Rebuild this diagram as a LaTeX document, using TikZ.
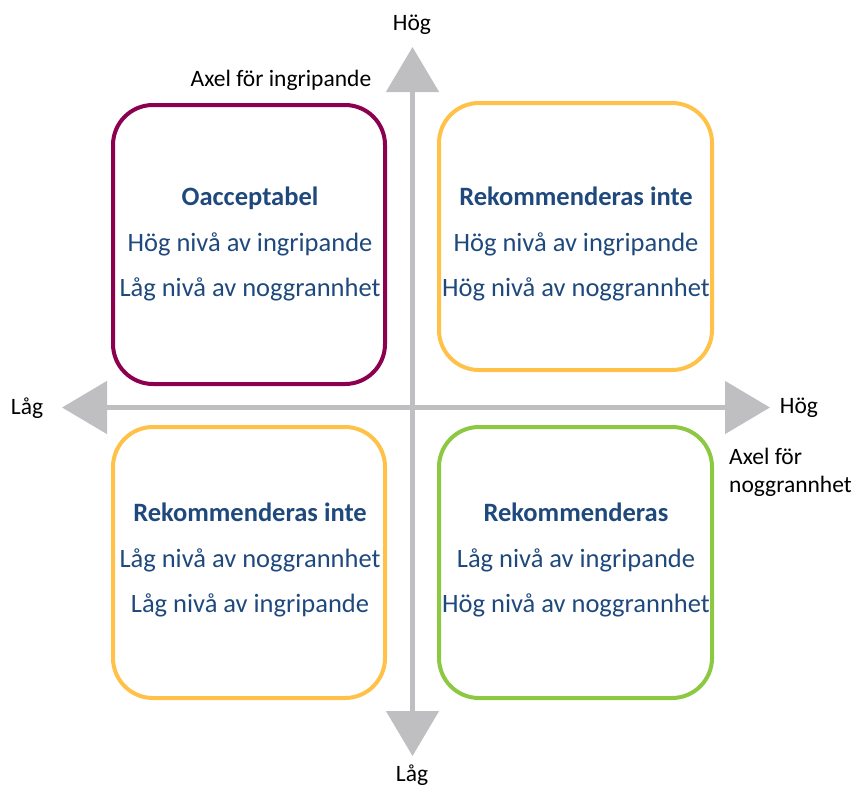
\documentclass[tikz,border=0pt]{standalone}
\usepackage{fontspec}
\setmainfont{Carlito}
\usetikzlibrary{arrows.meta, positioning}
\definecolor{axisgray}{RGB}{191,191,193}
\definecolor{plum}{RGB}{140,0,80}
\definecolor{amber}{RGB}{255,193,72}
\definecolor{leafgreen}{RGB}{140,200,65}
\definecolor{navytext}{RGB}{31,73,125}

\begin{document}
\begin{tikzpicture}[
    x=1pt, y=-1pt,
    quad/.style={rectangle, draw=#1, line width=4pt, rounded corners=40pt,
                 minimum width=272pt, minimum height=271pt, inner sep=0pt},
    quadtext/.style={align=center, text=navytext, inner sep=0pt,
                     font=\fontsize{26.5}{45.5}\selectfont},
    axislabel/.style={inner sep=0pt, font=\fontsize{23.5}{28}\selectfont},
    axis/.style={line width=5pt, axisgray,
                 {Triangle[length=45pt,width=52pt]}-{Triangle[length=45pt,width=52pt]}},
]
    \useasboundingbox (0,0) rectangle (856,787);

    % Axes
    \coordinate (west) at (62,407.5);
    \coordinate (east) at (770,407.5);
    \coordinate (north) at (412.5,47);
    \coordinate (south) at (412.5,756);
    \draw[axis] (west) -- (east);
    \draw[axis] (south) -- (north);

    % Axis labels
    \node[axislabel] (highV) at (412,25) {Hög};
    \node[axislabel] (lowV) at (412,775) {Låg};
    \node[axislabel] (lowH) at (27,408) {Låg};
    \node[axislabel] (highH) at (799,408) {Hög};
    \node[axislabel] (axisV) at (281,80) {Axel för ingripande};
    \node[axislabel, anchor=west, align=left] (axisH) at (729,472) {Axel för\\noggrannhet};

    % Quadrants
    \node[quad=plum, minimum height=279pt] (boxTL) at (249,244.5) {};
    \node[quad=amber, minimum width=273pt, minimum height=267pt] (boxTR) at (575.5,236.5) {};
    \node[quad=amber] (boxBL) at (249,562.5) {};
    \node[quad=leafgreen, minimum width=273pt] (boxBR) at (575.5,562.5) {};

    \node[quadtext] (textTL) at (250,244) {\textbf{Oacceptabel}\\Hög nivå av ingripande\\Låg nivå av noggrannhet};
    \node[quadtext] (textTR) at (576,244) {\textbf{Rekommenderas inte}\\Hög nivå av ingripande\\Hög nivå av noggrannhet};
    \node[quadtext] (textBL) at (250,560) {\textbf{Rekommenderas inte}\\Låg nivå av noggrannhet\\Låg nivå av ingripande};
    \node[quadtext] (textBR) at (576,560) {\textbf{Rekommenderas}\\Låg nivå av ingripande\\Hög nivå av noggrannhet};
\end{tikzpicture}
\end{document}
